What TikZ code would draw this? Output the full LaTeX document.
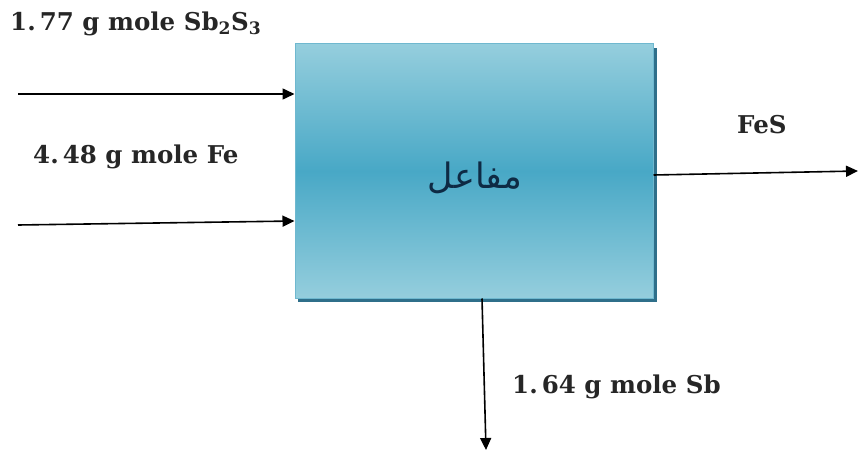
\documentclass[tikz,border=0pt]{standalone}
\usepackage{fontspec}
\setmainfont{DejaVu Serif}
\newfontfamily\arabicfont[Script=Arabic]{DejaVu Sans}
\TeXXeTstate=1
\usetikzlibrary{arrows.meta}
\definecolor{boxtop}{HTML}{95CEDD}
\definecolor{boxmid}{HTML}{48A8C6}
\definecolor{boxedge}{HTML}{6FB8CF}
\definecolor{boxshadow}{HTML}{2F6F8A}
\definecolor{arabtext}{HTML}{0E2A44}
\tikzset{
  flow/.style={line width=1.6pt, -{Triangle[length=12pt,width=11pt]}},
  lbl/.style={font=\fontsize{24.5}{28}\selectfont\bfseries, inner sep=0pt, text=black!85},
  reactor/.style={draw=boxedge, line width=1pt, top color=boxtop, bottom color=boxtop, middle color=boxmid, minimum width=358pt, minimum height=254pt, inner sep=0pt}
}
\begin{document}
\begin{tikzpicture}[x=1pt,y=-1pt]
\useasboundingbox (0,0) rectangle (858,457);
\fill[boxshadow] (298,48) rectangle (657,302);
\node[reactor] (R) at (474,171) {};
\node[font=\arabicfont\fontsize{35}{40}\selectfont, text=arabtext] (Rl) at (475,178) {\beginR مفاعل\endR};
\coordinate (a1) at (18,94);
\coordinate (a2) at (18,225);
\coordinate (e1) at (858,171);
\coordinate (e2) at (486,450);
\draw[flow] (a1) -- (R.west |- a1);
\draw[flow] (a2) -- (R.west |- 0,221);
\draw[flow] (R.east |- 0,175) -- (e1);
\draw[flow] (R.south -| 482,0) -- (e2);
\node[lbl, anchor=west] (t1) at (10,24) {1.\,77 g mole Sb$_{\mathbf 2}$S$_{\mathbf 3}$};
\node[lbl, anchor=west] (t2) at (33,157) {4.\,48 g mole Fe};
\node[lbl, anchor=west] (t3) at (737,125) {FeS};
\node[lbl, anchor=west] (t4) at (512,387) {1.\,64 g mole Sb};
\end{tikzpicture}
\end{document}
